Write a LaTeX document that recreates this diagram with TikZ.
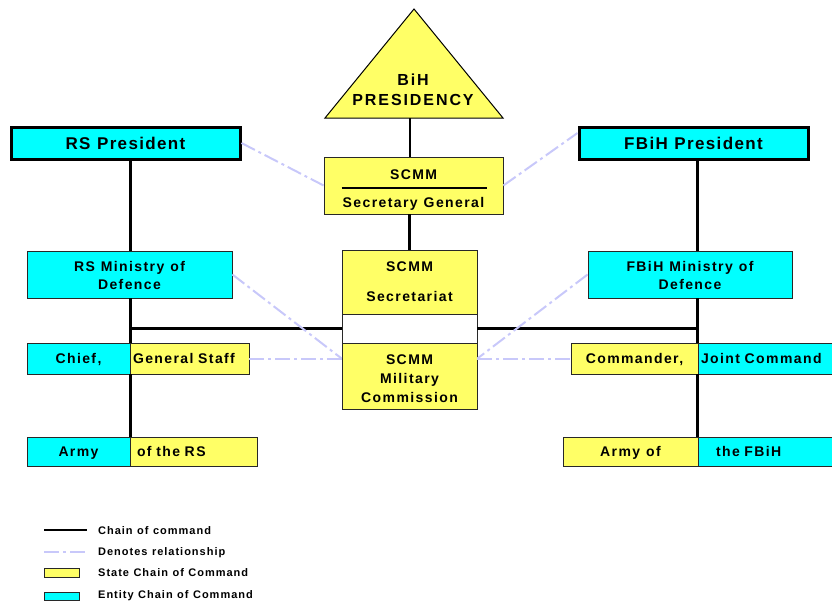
\documentclass[tikz,border=0pt]{standalone}
\usepackage{fontspec}
\setmainfont{Liberation Sans}
\newfontfamily\orgfont{Liberation Sans}[LetterSpace=10]
\newfontfamily\titlefont{Liberation Sans}[LetterSpace=8]
\newfontfamily\trifont{Liberation Sans}[LetterSpace=12]
\newfontfamily\legfont{Liberation Sans}[LetterSpace=9]
\definecolor{stateyellow}{RGB}{255,255,102}
\definecolor{entitycyan}{RGB}{0,255,255}
\definecolor{relblue}{RGB}{200,200,250}
\definecolor{boxline}{RGB}{40,40,40}
\newcommand{\orgspace}[1]{\spaceskip=#1\relax}

\begin{document}
\begin{tikzpicture}[x=1pt, y=-1pt]
	\tikzstyle{box} = [rectangle, draw=boxline, line width=0.8pt, inner sep=0pt, align=center, font=\orgfont\bfseries\fontsize{14}{18}\selectfont\orgspace{6pt}]
	\tikzstyle{oneline} = [text height=10pt, text depth=0pt]
	\tikzstyle{state} = [box, fill=stateyellow]
	\tikzstyle{entity} = [box, fill=entitycyan]
	\tikzstyle{president} = [entity, oneline, draw=black, line width=3pt, font=\titlefont\bfseries\fontsize{17}{20}\selectfont\orgspace{6.5pt}, text height=12pt]
	\tikzstyle{chain} = [black, line width=3pt]
	\tikzstyle{relation} = [relblue, line width=2pt, dash pattern=on 15pt off 4pt on 3pt off 4pt]
	\tikzstyle{legtext} = [anchor=west, inner sep=0pt, text height=8pt, text depth=2pt, font=\legfont\bfseries\fontsize{11}{13}\selectfont\orgspace{4.5pt}]
	\useasboundingbox (0,0) rectangle (832,603);
	\coordinate (apex) at (414,9);
	\coordinate (baseR) at (503,118);
	\coordinate (baseL) at (325,118);
	\coordinate (bihbase) at (410,118);
	\draw [fill=stateyellow, line width=1pt] (apex)--(baseR)--(baseL)--cycle;
	\node (bih) at (413,90) [align=center, font=\trifont\bfseries\fontsize{16}{20}\selectfont] {BiH\\PRESIDENCY};
	\node (rspres) at (125.5,143) [president, minimum width=229, minimum height=32] {RS President};
	\node (fbpres) at (693.5,143) [president, minimum width=229, minimum height=32] {FBiH President};
	\node (sg) at (413.5,185.5) [state, minimum width=179, minimum height=57] {\rule{0pt}{18pt}SCMM\\[10pt]Secretary General};
	\node (sec) at (409.5,282) [state, minimum width=135, minimum height=64] {SCMM\\[12pt]Secretariat};
	\node (gap) at (409.5,328.5) [box, fill=white, minimum width=135, minimum height=29] {};
	\node (mc) at (409.5,376) [state, minimum width=135, minimum height=66, font=\orgfont\bfseries\fontsize{14}{19}\selectfont] {\rule{0pt}{16pt}SCMM\\Military\\Commission};
	\node (rsmod) at (129.5,274.5) [entity, minimum width=205, minimum height=47] {\rule{0pt}{12pt}RS Ministry of\\Defence};
	\node (fbmod) at (690,274.5) [entity, minimum width=204, minimum height=47] {\rule{0pt}{12pt}FBiH Ministry of\\Defence};
	\node (chief) at (78.5,358.5) [entity, oneline, minimum width=103, minimum height=31] {Chief,};
	\node (gs) at (189.5,358.5) [state, oneline, text width=113, inner xsep=3, align=left, minimum height=31] {General Staff};
	\node (army) at (78.5,451.5) [entity, oneline, minimum width=103, minimum height=29] {Army};
	\node (ofrs) at (193.5,451.5) [state, oneline, text width=113, inner xsep=7, align=left, minimum height=29] {of the RS};
	\node (cmd) at (634.5,358.5) [state, oneline, minimum width=127, minimum height=31] {Commander,};
	\node (jc) at (767,358.5) [entity, oneline, text width=132, inner xsep=3, align=left, minimum height=31] {Joint Command};
	\node (afb) at (630.5,451.5) [state, oneline, minimum width=135, minimum height=29] {Army of};
	\node (tfb) at (767,451.5) [entity, oneline, text width=102, inner xsep=18, align=left, minimum height=29] {the FBiH};
	\draw [line width=2pt] ([shift={(-72,2.5)}]sg.center)--([shift={(73,2.5)}]sg.center);
	\draw [chain, line width=2.5pt] (bihbase)--(bihbase |- sg.north);
	\draw [chain, line width=2.5pt] (sec.north |- sg.south)--(sec.north);
	\draw [chain] (chief.east |- rspres.south)--(chief.east |- rsmod.north);
	\draw [chain] (chief.east |- rsmod.south)--(chief.north east);
	\draw [chain] (chief.south east)--(army.north east);
	\draw [chain] (jc.west |- fbpres.south)--(jc.west |- fbmod.north);
	\draw [chain] (jc.west |- fbmod.south)--(jc.north west);
	\draw [chain] (jc.south west)--(tfb.north west);
	\draw [chain] (gap.west)--(gap.west -| chief.east);
	\draw [chain] (gap.east)--(gap.east -| jc.west);
	\draw [relation] (rspres.east)--(sg.west);
	\draw [relation] (sg.east)--([yshift=10pt]fbpres.west);
	\draw [relation] (rsmod.east)--(gs.east -| mc.west);
	\draw [relation] (gs.east)--(gs.east -| mc.west);
	\draw [relation] (fbmod.west)--(cmd.west -| mc.east);
	\draw [relation] (cmd.west -| mc.east)--(cmd.west);
	\coordinate (chainA) at (44,530);
	\coordinate (chainB) at (87,530);
	\coordinate (relA) at (44,552);
	\coordinate (relB) at (87,552);
	\draw [chain, line width=2.5pt] (chainA)--(chainB);
	\draw [relation] (relA)--(relB);
	\node (legstate) at (61.5,572.5) [state, minimum width=35, minimum height=9] {};
	\node (legentity) at (61.5,596) [entity, minimum width=35, minimum height=8] {};
	\node (txtchain) at (98,531) [legtext] {Chain of command};
	\node (txtrel) at (98,552) [legtext] {Denotes relationship};
	\node (txtstate) at (98,573) [legtext] {State Chain of Command};
	\node (txtentity) at (98,595) [legtext] {Entity Chain of Command};
\end{tikzpicture}
\end{document}
